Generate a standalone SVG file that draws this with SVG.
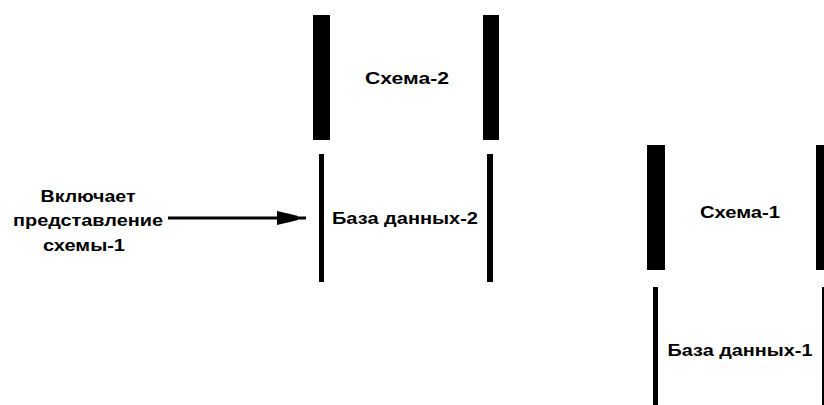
<svg xmlns="http://www.w3.org/2000/svg" width="824" height="405" viewBox="0 0 824 405">
<style>
  .bg { fill: #ffffff; }
  .bar { fill: #000000; }
  .lbl { font-family: "Liberation Sans", Arial, sans-serif; font-weight: bold; font-size: 16px; fill: #000000; text-anchor: middle; }
  .conn { stroke: #000000; stroke-width: 3; fill: none; }
</style>
<rect class="bg" x="0" y="0" width="824" height="405"/>
<g id="schema2">
  <rect class="bar" x="313" y="15" width="17" height="125"/>
  <rect class="bar" x="483" y="15" width="16" height="125"/>
  <text class="lbl" x="407" y="84" textLength="84" lengthAdjust="spacingAndGlyphs">Схема-2</text>
</g>
<g id="db2">
  <rect class="bar" x="319" y="154" width="5" height="128"/>
  <rect class="bar" x="487" y="154" width="6" height="128"/>
  <text class="lbl" x="405" y="224" textLength="146" lengthAdjust="spacingAndGlyphs">База данных-2</text>
</g>
<g id="schema1">
  <rect class="bar" x="647" y="145" width="18" height="125"/>
  <rect class="bar" x="816" y="145" width="17" height="125"/>
  <text class="lbl" x="740" y="218" textLength="80" lengthAdjust="spacingAndGlyphs">Схема-1</text>
</g>
<g id="db1">
  <rect class="bar" x="653" y="287" width="5" height="130"/>
  <rect class="bar" x="822" y="287" width="5" height="130"/>
  <text class="lbl" x="740" y="356" textLength="145" lengthAdjust="spacingAndGlyphs">База данных-1</text>
</g>
<g id="label">
  <text class="lbl" x="88" y="202" textLength="95" lengthAdjust="spacingAndGlyphs">Включает</text>
  <text class="lbl" x="88" y="226" textLength="150" lengthAdjust="spacingAndGlyphs">представление</text>
  <text class="lbl" x="84" y="251" textLength="82" lengthAdjust="spacingAndGlyphs">схемы-1</text>
</g>
<g id="connectors">
  <line class="conn" x1="168" y1="218" x2="306" y2="218"/>
  <polygon class="bar" points="277,211 290,214 298,216 298,220 290,222 277,225"/>
</g>
</svg>
